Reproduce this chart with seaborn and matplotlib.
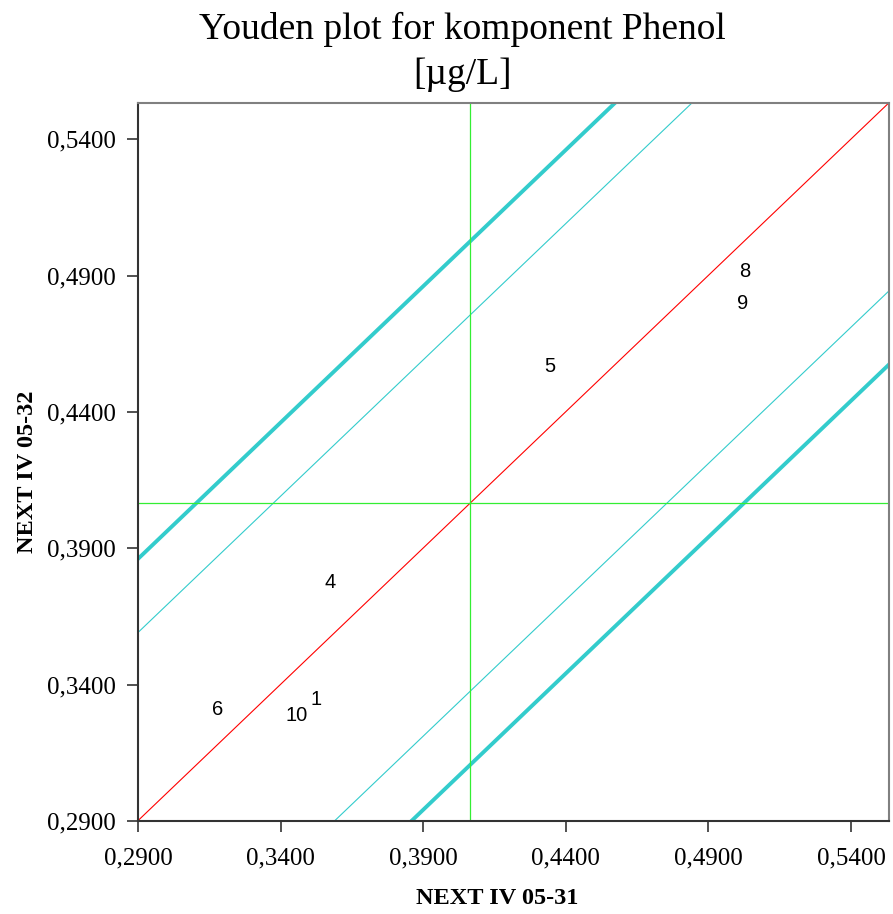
import matplotlib
matplotlib.use("Agg")
import matplotlib.pyplot as plt
import matplotlib.ticker as mticker
import numpy as np
import pandas as pd
import seaborn as sns

# Laboratory results (sample 05-31 vs sample 05-32)
labs = ["8", "9", "5", "4", "6", "10", "1"]
x_vals = [0.5028, 0.5021, 0.4345, 0.3573, 0.3181, 0.3457, 0.3524]
y_vals = [0.4916, 0.4799, 0.4568, 0.3776, 0.3307, 0.3285, 0.3344]

# Medians and acceptance band half-widths along the diagonal
median_x = 0.4064
median_y = 0.4065
inner_band = 0.069
outer_band = 0.096

axis_min, axis_max = 0.29, 0.5533
tick_values = [0.29, 0.34, 0.39, 0.44, 0.49, 0.54]

sns.set_theme(style="white")
plt.rcParams["font.family"] = ["Liberation Serif", "DejaVu Serif"]
plt.rcParams["text.color"] = "black"
plt.rcParams["xtick.color"] = "black"
plt.rcParams["ytick.color"] = "black"
plt.rcParams["axes.labelcolor"] = "black"

fig = plt.figure(figsize=(8.93, 9.14), dpi=100)
ax = fig.add_axes([0.1545, 0.1018, 0.841, 0.7855])

# Diagonal line through the median point and its parallel bands
xs = np.array([axis_min - 0.2, axis_max + 0.2])
line_specs = [
    (0.0, "#FF0000", 0.8),
    (inner_band, "#33CCCC", 0.8),
    (-inner_band, "#33CCCC", 0.8),
    (outer_band, "#33CCCC", 2.8),
    (-outer_band, "#33CCCC", 2.8),
]
for offset, color, lw in line_specs:
    df = pd.DataFrame({"x": xs, "y": xs - median_x + median_y + offset})
    sns.lineplot(data=df, x="x", y="y", color=color, linewidth=lw, ax=ax,
                 sort=False, estimator=None)

# Median cross-hair
ax.axvline(median_x, color="#33EE33", linewidth=0.9)
ax.axhline(median_y, color="#33EE33", linewidth=0.9)

# Laboratory numbers at their result positions
for lab, xv, yv in zip(labs, x_vals, y_vals):
    ax.text(xv, yv, lab, ha="center", va="center", fontsize=14.5,
            family=["Liberation Sans", "DejaVu Sans"], color="black")

ax.set_xlim(axis_min, axis_max)
ax.set_ylim(axis_min, axis_max)
ax.set_xticks(tick_values)
ax.set_yticks(tick_values)
fmt = mticker.FuncFormatter(lambda v, p: f"{v:.4f}".replace(".", ","))
ax.xaxis.set_major_formatter(fmt)
ax.yaxis.set_major_formatter(fmt)
ax.tick_params(axis="both", which="major", labelsize=18, length=8, width=1.2,
               color="#333333", direction="out", bottom=True, left=True)
ax.tick_params(axis="x", pad=11)
ax.tick_params(axis="y", pad=8)

for side in ["left", "bottom"]:
    ax.spines[side].set_color("#333333")
    ax.spines[side].set_linewidth(1.5)
for side in ["top", "right"]:
    ax.spines[side].set_color("#808080")
    ax.spines[side].set_linewidth(1.5)

ax.set_xlabel("NEXT IV 05-31", fontsize=17.5, fontweight="bold", va="center")
ax.set_ylabel("NEXT IV 05-32", fontsize=17.5, fontweight="bold", va="center")
ax.xaxis.set_label_coords(0.478, -0.1075)
ax.yaxis.set_label_coords(-0.1465, 0.486)

fig.text(0.518, 0.968, "Youden plot for komponent Phenol", ha="center",
         va="center", fontsize=27)
fig.text(0.518, 0.918, "[µg/L]", ha="center", va="center", fontsize=27)

fig.savefig("out.png", dpi=100)
